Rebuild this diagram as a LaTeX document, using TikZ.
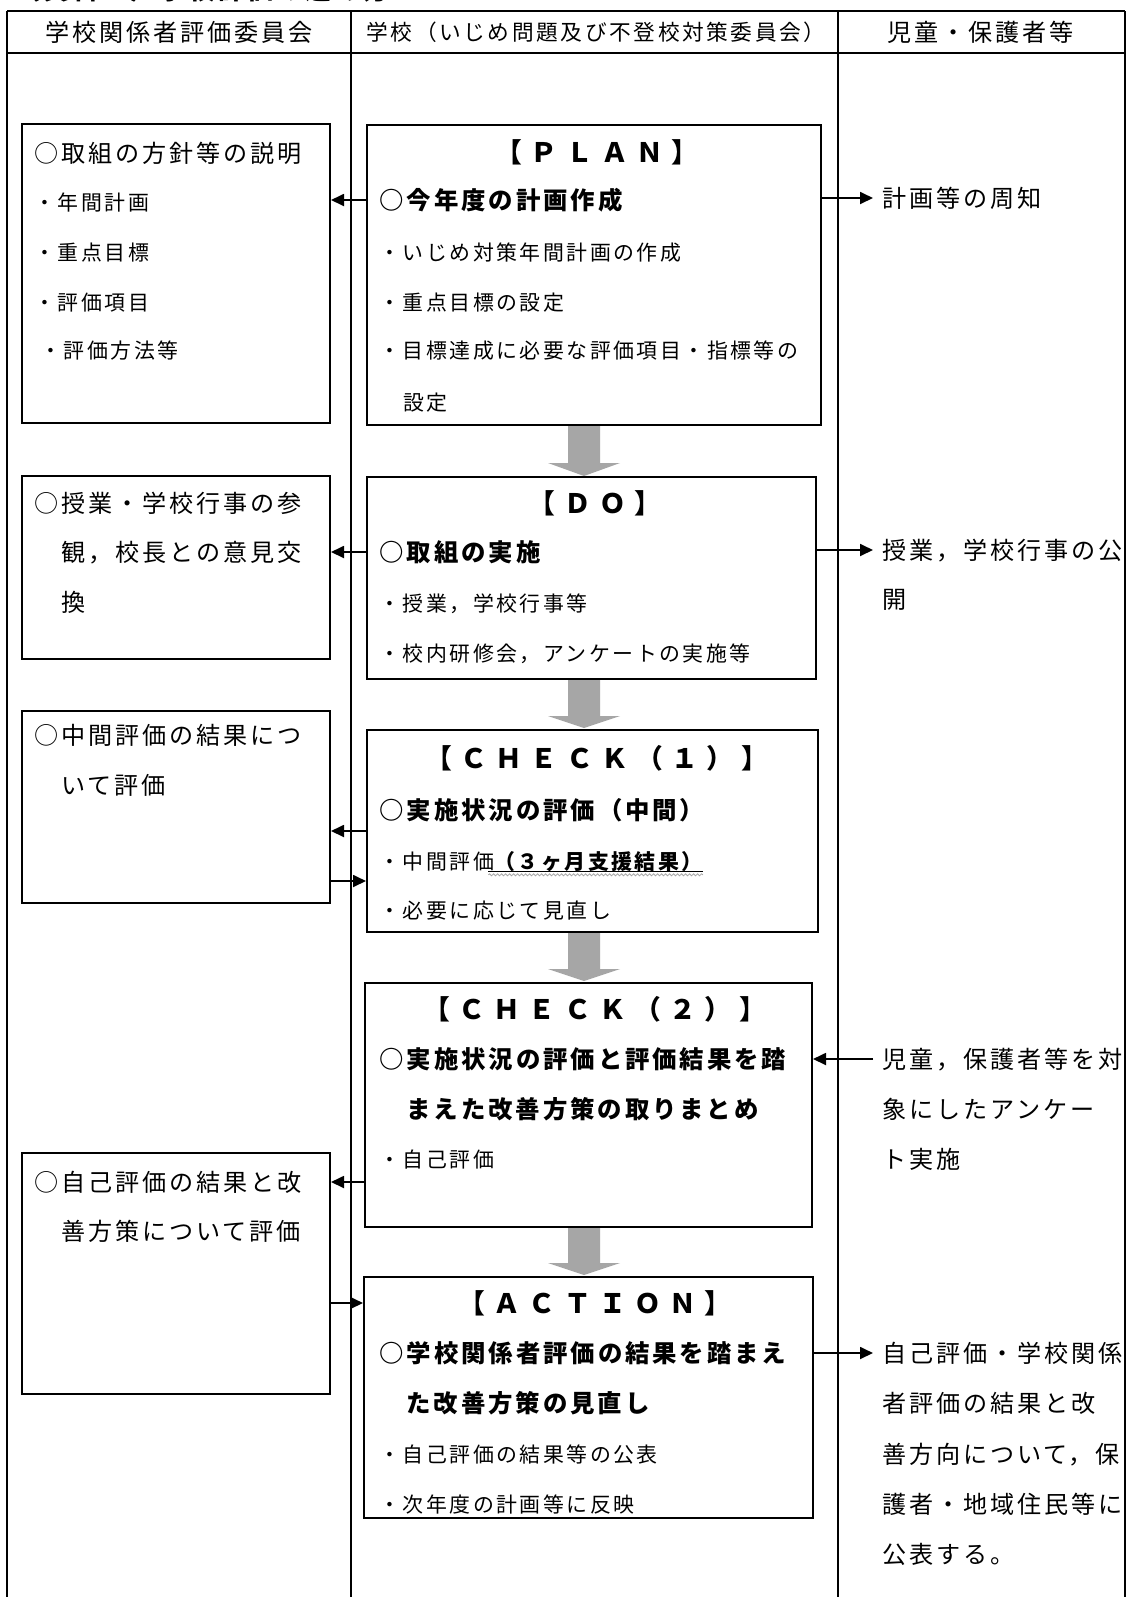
\documentclass[tikz,border=0pt]{standalone}
\usepackage{fontspec}
\setmainfont{Noto Sans CJK JP}
\newfontfamily\jp[LetterSpace=12]{Noto Sans CJK JP}
\newfontfamily\jpwide[LetterSpace=31]{Noto Sans CJK JP}
\usetikzlibrary{arrows.meta,fit,calc,decorations.pathmorphing}
\definecolor{bargray}{HTML}{A6A6A6}
\newcommand\szbig{\fontsize{12.05pt}{14pt}\selectfont}
\newcommand\szsmall{\fontsize{10.45pt}{12pt}\selectfont}
\newcommand\szhead{\fontsize{10.85pt}{12pt}\selectfont}
\newcommand\szbold{\fontsize{12.2pt}{14pt}\selectfont\bfseries}
\newcommand\szdoc{\fontsize{13pt}{15pt}\selectfont\bfseries}
\newcommand\sztitle{\fontsize{13.4pt}{15pt}\selectfont\bfseries}
\newcommand\blockarrow[3]{%
  \fill[bargray] (568,#1) -- (600,#1) -- (600,#2) -- (620,#2) -- (584,#3) -- (548,#2) -- (568,#2) -- cycle;}
\begin{document}
\begin{tikzpicture}[x=0.5pt,y=-0.5pt,
  tline/.style={line width=1.1pt},
  box/.style={draw, line width=1pt, inner sep=0pt},
  big/.style={font=\jp\szbig, inner sep=0pt, text height=10.2pt, text depth=1pt, anchor=west},
  bigc/.style={big, anchor=center},
  small/.style={font=\jp\szsmall, inner sep=0pt, text height=8.9pt, text depth=0.9pt, anchor=west},
  smallc/.style={font=\jp\szhead, inner sep=0pt, text height=9pt, text depth=0.9pt, anchor=center},
  sbold/.style={small, font=\jp\szsmall\bfseries},
  bold/.style={font=\jp\szbold, inner sep=0pt, text height=10.3pt, text depth=1pt, anchor=west},
  ttl/.style={font=\jpwide\sztitle, inner sep=0pt, text height=11.3pt, text depth=1.1pt, anchor=center},
  arr/.style={line width=0.9pt, -{Triangle[length=6.5pt,width=6pt]}}
]
\useasboundingbox (0,0) rectangle (1131,1597);
\clip (0,0) rectangle (1131,1597);
\fill[white] (0,0) rectangle (1131,1597);

% cut-off document title
\node[font=\jp\szdoc, inner sep=0pt, text height=11pt, text depth=1pt, anchor=west] (title) at (14,-11) {（資料１）学校評価の進め方};

% table frame
\draw[tline] (7,11) -- (1125,11);
\draw[tline] (7,53) -- (1125,53);
\draw[tline] (7,11) -- (7,1600);
\draw[tline] (351,11) -- (351,1600);
\draw[tline] (838,11) -- (838,1600);
\draw[tline] (1125,11) -- (1125,1600);

% headers
\node[bigc] (h1) at (179,32) {学校関係者評価委員会};
\node[smallc] (h2) at (596,32) {学校（いじめ問題及び不登校対策委員会）};
\node[bigc] (h3) at (981,32) {児童・保護者等};

% left boxes
\node[box, fit={(22,124) (330,423)}] (lb1) {};
\node[big] (l1a) at (34,153) {○取組の方針等の説明};
\node[small] (l1b) at (34,202) {・年間計画};
\node[small] (l1c) at (34,252) {・重点目標};
\node[small] (l1d) at (34,302) {・評価項目};
\node[small] (l1e) at (40,350) {・評価方法等};

\node[box, fit={(22,476) (330,659)}] (lb2) {};
\node[big] (l2a) at (34,503) {○授業・学校行事の参};
\node[big] (l2b) at (61,552) {観，校長との意見交};
\node[big] (l2c) at (61,602) {換};

\node[box, fit={(22,711) (330,903)}] (lb3) {};
\node[big] (l3a) at (34,735) {○中間評価の結果につ};
\node[big] (l3b) at (61,785) {いて評価};

\node[box, fit={(22,1153) (330,1394)}] (lb4) {};
\node[big] (l4a) at (34,1182) {○自己評価の結果と改};
\node[big] (l4b) at (61,1231) {善方策について評価};

% centre boxes
\node[box, fit={(367,125) (821,425)}] (plan) {};
\node[ttl] (p1) at (597,152) {【ＰＬＡＮ】};
\node[bold] (p2) at (379,200) {○今年度の計画作成};
\node[small] (p3) at (379,252) {・いじめ対策年間計画の作成};
\node[small] (p4) at (379,302) {・重点目標の設定};
\node[small] (p5) at (379,350) {・目標達成に必要な評価項目・指標等の};
\node[small] (p6) at (403,402) {設定};

\node[box, fit={(367,477) (816,679)}] (do) {};
\node[ttl] (d1) at (595,503) {【ＤＯ】};
\node[bold] (d2) at (379,552) {○取組の実施};
\node[small] (d3) at (379,603) {・授業，学校行事等};
\node[small] (d4) at (379,653) {・校内研修会，アンケートの実施等};

\node[box, fit={(367,730) (818,932)}] (ck1) {};
\node[ttl] (c1) at (597,758) {【ＣＨＥＣＫ（１）】};
\node[bold] (c2) at (379,810) {○実施状況の評価（中間）};
\node[small] (c3a) at (379,861) {・中間評価};
\node[sbold] (c3b) at (494,861) {（３ヶ月支援結果）};
\node[small] (c4) at (379,910) {・必要に応じて見直し};
\draw[line width=0.4pt] ([xshift=-3pt]c3a.south east) -- (c3b.south east);
\draw[bargray, line width=0.4pt, decorate, decoration={snake, amplitude=0.5pt, segment length=2pt}]
  ([xshift=-3pt,yshift=-1.8pt]c3a.south east) -- ([yshift=-1.8pt]c3b.south east);

\node[box, fit={(365,983) (812,1227)}] (ck2) {};
\node[ttl] (k1) at (595,1009) {【ＣＨＥＣＫ（２）】};
\node[bold] (k2) at (379,1059) {○実施状況の評価と評価結果を踏};
\node[bold] (k3) at (406,1109) {まえた改善方策の取りまとめ};
\node[small] (k4) at (379,1159) {・自己評価};

\node[box, fit={(364,1277) (813,1518)}] (act) {};
\node[ttl] (a1) at (595,1303) {【ＡＣＴＩＯＮ】};
\node[bold] (a2) at (379,1353) {○学校関係者評価の結果を踏まえ};
\node[bold] (a3) at (406,1403) {た改善方策の見直し};
\node[small] (a4) at (379,1454) {・自己評価の結果等の公表};
\node[small] (a5) at (379,1504) {・次年度の計画等に反映};

% right column texts
\node[big] (r1) at (882,198) {計画等の周知};
\node[big] (r2a) at (882,550) {授業，学校行事の公};
\node[big] (r2b) at (882,599) {開};
\node[big] (r3a) at (882,1059) {児童，保護者等を対};
\node[big] (r3b) at (882,1109) {象にしたアンケー};
\node[big] (r3c) at (882,1159) {ト実施};
\node[big] (r4a) at (882,1353) {自己評価・学校関係};
\node[big] (r4b) at (882,1403) {者評価の結果と改};
\node[big] (r4c) at (882,1454) {善方向について，保};
\node[big] (r4d) at (882,1504) {護者・地域住民等に};
\node[big] (r4e) at (882,1554) {公表する。};

% grey flow arrows
\blockarrow{426}{463}{476}
\blockarrow{680}{716}{728}
\blockarrow{933}{969}{981}
\blockarrow{1228}{1263}{1275}

% connectors
\draw[arr] (plan.west |- p2) -- (lb1.east |- p2);
\draw[arr, shorten >=4.5pt] (r1.west -| plan.east) -- (r1.west);
\draw[arr] (do.west |- d2) -- (lb2.east |- d2);
\draw[arr, shorten >=4.5pt] (r2a.west -| do.east) -- (r2a.west);
\draw[arr] (ck1.west) -- (lb3.east |- ck1.west);
\draw[arr] ($(lb3.east |- ck1.west)+(0,50)$) -- ($(ck1.west)+(0,50)$);
\draw[arr] (ck2.west |- l4a) -- (lb4.east |- l4a);
\draw[arr, shorten <=4.5pt] (r3a.west) -- (r3a.west -| ck2.east);
\draw[arr] (lb4.east |- a1) -- (act.west |- a1);
\draw[arr, shorten >=4.5pt] (r4a.west -| act.east) -- (r4a.west);
\end{tikzpicture}
\end{document}
